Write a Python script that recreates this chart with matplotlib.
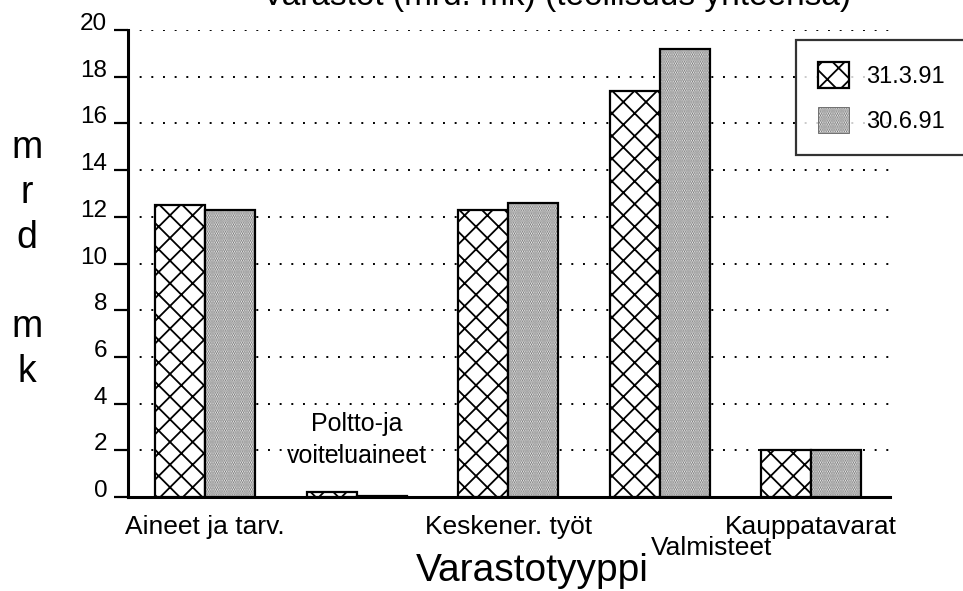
import matplotlib
matplotlib.use('Agg')
import matplotlib.pyplot as plt
import numpy as np

# lower dpi -> finer hatch; all sizes below are given for 100 dpi and scaled
DPI = 68
K = 100 / DPI
W, H = 963, 591

plt.rcParams['font.family'] = ['Liberation Sans', 'DejaVu Sans']
plt.rcParams['hatch.linewidth'] = 1.3 * K

# data
categories = ['Aineet ja tarv.', 'Poltto-ja\nvoiteluaineet', 'Keskener. työt', 'Valmisteet', 'Kauppatavarat']
series_names = ['31.3.91', '30.6.91']
vals_mar = [12.5, 0.2, 12.3, 17.4, 2.0]
vals_jun = [12.3, 0.05, 12.6, 19.2, 2.0]
yticks = np.arange(0, 21, 2)

STIP = '#6e6e6e'

fig = plt.figure(figsize=(W / DPI, H / DPI), dpi=DPI)
ax = fig.add_axes([128/W, 1 - 497/H, (890-128)/W, (497-30)/H])

x = np.arange(len(categories))
w = 0.33
ax.bar(x - w/2, vals_mar, w, facecolor='white', edgecolor='black', hatch='x', linewidth=1.6*K,
       label=series_names[0], zorder=3)
# stipple: grey dots, black outline drawn on top
ax.bar(x + w/2, vals_jun, w, facecolor='white', edgecolor=STIP, hatch='.....', linewidth=0,
       zorder=3)
ax.bar(x + w/2, vals_jun, w, fill=False, edgecolor='black', linewidth=1.6*K, zorder=4)
stip = plt.Rectangle((0, 0), 1, 1, facecolor='white', edgecolor=STIP, hatch='.....')

ax.set_xlim(-0.508, 4.52)
ax.set_ylim(0, 20)
ax.set_yticks(yticks)
ax.tick_params(axis='y', direction='out', length=10*K, width=1.6*K, labelsize=17.5*K, pad=5*K)
for lbl in ax.get_yticklabels():
    lbl.set_verticalalignment('baseline')
ax.set_xticks([])
for s in ['top', 'right']:
    ax.spines[s].set_visible(False)
ax.spines['left'].set_linewidth(2.2*K)
ax.spines['bottom'].set_linewidth(2.2*K)
ax.yaxis.grid(True, linestyle=(0, (1, 5)), color='black', linewidth=1.4*K)
ax.set_axisbelow(True)

# category labels
for i in [0, 2, 4]:
    ax.text(x[i], -0.75, categories[i], ha='center', va='top', fontsize=19*K)
ax.text(x[1], 2.45, categories[1], ha='center', va='center', fontsize=18*K, linespacing=1.45)

# axis titles
fig.text(649/W, 1 - 581/H, 'Varastotyyppi', ha='right', va='baseline', fontsize=28*K)
fig.text(651/W, 1 - 555/H, categories[3], ha='left', va='baseline', fontsize=19*K)
fig.text(27/W, 1 - 260/H, 'm\nr\nd\n\nm\nk', ha='center', va='center', fontsize=27*K,
         linespacing=1.32)

# title (cropped at top edge in original)
fig.text(557/W, 1 - 5/H, 'Varastot (mrd. mk) (teollisuus yhteensä)', ha='center',
         va='baseline', fontsize=24*K)

handles, labels = ax.get_legend_handles_labels()
handles = handles + [stip]
labels = labels + [series_names[1]]
leg = ax.legend(handles, labels, loc='upper left',
                bbox_to_anchor=((796-128)/(890-128), 1 - (40-30)/(497-30)),
                fontsize=17*K, frameon=True, fancybox=False, edgecolor='black',
                handlelength=1.3, handleheight=1.3, borderpad=0.95, labelspacing=0.8,
                handletextpad=0.7, borderaxespad=0)
leg.get_frame().set_linewidth(1.6*K)
leg.legend_handles[1].set_edgecolor(STIP)

fig.savefig('out.png', dpi=DPI)
